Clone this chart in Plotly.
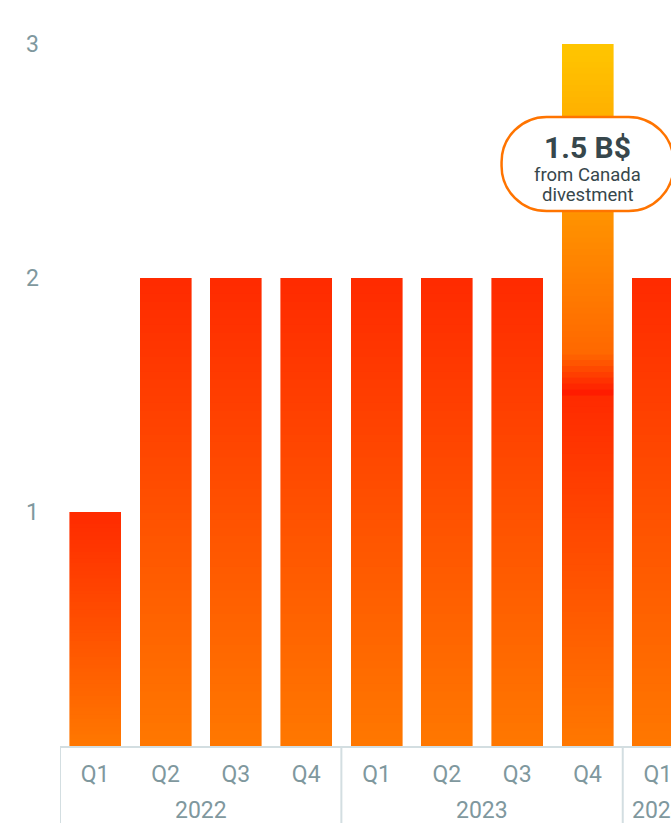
import plotly.graph_objects as go

# ---- data ----
years = ["2022", "2022", "2022", "2022", "2023", "2023", "2023", "2023", "2024"]
quarters = ["Q1", "Q2", "Q3", "Q4", "Q1", "Q2", "Q3", "Q4", "Q1"]
base_values = [1, 2, 2, 2, 2, 2, 2, 1.5, 2]
divestment_values = [None, None, None, None, None, None, None, 1.5, None]
y_ticks = [1, 2, 3]
callout_title = "1.5 B$"
callout_lines = ["from Canada", "divestment"]

# ---- style ----
BASE_STOPS = [(0.0, (255, 120, 0)), (1.0, (255, 42, 0))]  # bottom -> top of bar
DIV_STOPS = [(0.0, (255, 22, 0)), (0.12, (255, 104, 0)), (0.5, (255, 145, 0)), (1.0, (255, 198, 0))]
SLICES = 60
TICK_COLOR = "#7f989e"
AXIS_COLOR = "#d3dee1"
FONT = "Roboto"


def interp(stops, t):
    for (t0, c0), (t1, c1) in zip(stops[:-1], stops[1:]):
        if t <= t1:
            f = 0 if t1 == t0 else (t - t0) / (t1 - t0)
            return "rgb(%d,%d,%d)" % tuple(round(a + (b - a) * f) for a, b in zip(c0, c1))
    return "rgb(%d,%d,%d)" % stops[-1][1]


idx = list(range(len(quarters)))
fig = go.Figure()

for values, stops in ((base_values, BASE_STOPS), (divestment_values, DIV_STOPS)):
    for k in range(SLICES):
        t = (k + 0.5) / SLICES
        col = interp(stops, t)
        fig.add_trace(go.Bar(
            x=idx,
            y=[None if v is None else v / SLICES for v in values],
            marker=dict(color=col, line=dict(color=col, width=0.6)),
            showlegend=False,
            hoverinfo="skip",
        ))

PLOT_H = 746
fig.update_layout(
    width=671, height=823,
    barmode="stack", bargap=0.275,
    margin=dict(l=60, r=0, t=0, b=823 - PLOT_H),
    paper_bgcolor="white", plot_bgcolor="white",
    font=dict(family=FONT, color=TICK_COLOR),
    showlegend=False,
)

fig.update_xaxes(
    range=[-0.5, 8.186],
    tickvals=idx, ticktext=quarters,
    showline=True, linecolor=AXIS_COLOR, linewidth=2,
    showgrid=False, zeroline=False, ticks="",
    ticklabelstandoff=6, ticklabeloverflow="allow",
    tickfont=dict(size=23, color=TICK_COLOR, family=FONT),
    automargin=False,
)
fig.update_yaxes(
    range=[0, 746 / 234],
    tickvals=y_ticks, ticktext=[str(v) for v in y_ticks],
    showgrid=False, zeroline=False, showline=False, ticks="",
    ticklabelstandoff=20,
    tickfont=dict(size=23, color=TICK_COLOR, family=FONT),
    automargin=False,
)

# year group labels and dividers
groups = {}
for i, yv in zip(idx, years):
    groups.setdefault(yv, []).append(i)
for yv, members in groups.items():
    fig.add_annotation(x=sum(members) / len(members), y=0, xref="x", yref="paper",
                       yanchor="middle", yshift=-64, showarrow=False, text=yv,
                       font=dict(family=FONT, size=23, color=TICK_COLOR))
    fig.add_shape(type="line", xref="x", yref="paper",
                  x0=members[0] - 0.5, x1=members[0] - 0.5,
                  y0=0, y1=-(823 - PLOT_H) / PLOT_H,
                  line=dict(color=AXIS_COLOR, width=2), layer="above")

# callout pill anchored on the Q4 2023 bar
cx = 7
cy = (746 - 164) / 234
W, H, r = 86, 47, 45
kk = 0.5523 * r
sx = W - r
path = (f"M {-sx},{-H} L {sx},{-H} C {sx + kk},{-H} {W},{-H + r - kk} {W},{-H + r} "
        f"L {W},{H - r} C {W},{H - r + kk} {sx + kk},{H} {sx},{H} L {-sx},{H} "
        f"C {-sx - kk},{H} {-W},{H - r + kk} {-W},{H - r} L {-W},{-H + r} "
        f"C {-W},{-H + r - kk} {-sx - kk},{-H} {-sx},{-H} Z")
fig.add_shape(
    type="path", xref="x", yref="y",
    xsizemode="pixel", ysizemode="pixel",
    xanchor=cx, yanchor=cy, path=path,
    fillcolor="white", line=dict(color="#ff7400", width=2.5), layer="above",
)

fig.add_annotation(x=cx, y=cy, xref="x", yref="y", yshift=17, showarrow=False,
                   text=f"<b>{callout_title}</b>",
                   font=dict(family=FONT, size=30, color="#37474c"))
for line, ys in zip(callout_lines, (-11, -31)):
    fig.add_annotation(x=cx, y=cy, xref="x", yref="y", yshift=ys, showarrow=False,
                       text=line, font=dict(family=FONT, size=18.5, color="#37474c"))

fig.write_html("out.html", config={"displayModeBar": False},
               post_script="document.body.style.margin='0px';document.body.style.overflow='hidden';")
